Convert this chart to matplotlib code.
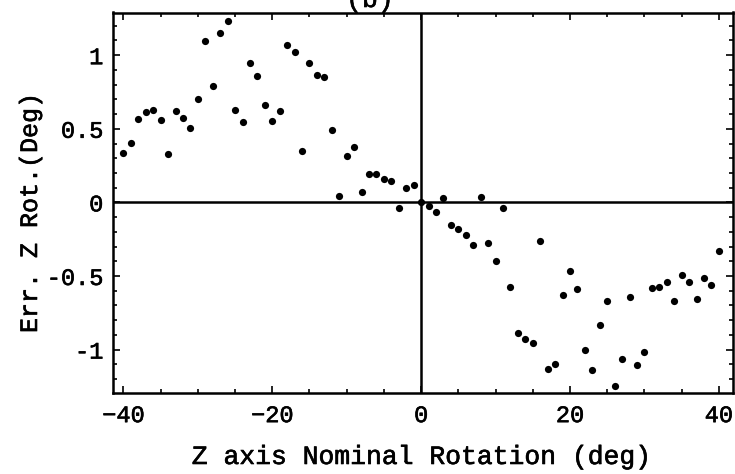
from matplotlib import pyplot as plt
from matplotlib.ticker import MultipleLocator
import matplotlib.patheffects as pe

# nominal rotation (deg) and measured error (deg)
x_neg = [-40, -39, -38, -37, -36, -35, -34, -33, -32, -31,
         -30, -29, -28, -27, -26, -25, -24, -23, -22, -21,
         -20, -19, -18, -17, -16, -15, -14, -13, -12, -11,
         -10, -9, -8, -7, -6, -5, -4, -3, -2, -1]
err_neg = [0.333, 0.406, 0.569, 0.615, 0.628, 0.562, 0.331, 0.619, 0.574, 0.508,
           0.700, 1.095, 0.794, 1.150, 1.234, 0.628, 0.549, 0.950, 0.860, 0.662,
           0.556, 0.624, 1.070, 1.020, 0.352, 0.946, 0.867, 0.853, 0.495, 0.041,
           0.318, 0.374, 0.071, 0.195, 0.195, 0.157, 0.148, -0.041, 0.098, 0.120]

x_pos = [0, 1, 2, 3, 4, 5, 6, 7, 8, 9,
         10, 11, 12, 13, 14, 15, 16, 17, 18, 19,
         20, 21, 22, 23, 24, 25, 26, 27, 28, 29,
         30, 31, 32, 33, 34, 35, 36, 37, 38, 39, 40]
err_pos = [0.0, -0.027, -0.068, 0.030, -0.154, -0.179, -0.220, -0.292, 0.039, -0.279,
           -0.399, -0.036, -0.576, -0.884, -0.925, -0.954, -0.265, -1.133, -1.095, -0.628,
           -0.465, -0.589, -1.002, -1.140, -0.830, -0.667, -1.245, -1.061, -0.641, -1.106,
           -1.016, -0.583, -0.576, -0.542, -0.673, -0.492, -0.542, -0.653, -0.517, -0.562,
           -0.329]

x_ticks = [-40, -20, 0, 20, 40]
y_ticks = [-1, -0.5, 0, 0.5, 1]
y_tick_labels = ["-1", "-0.5", "0", "0.5", "1"]

plt.rcParams['font.family'] = ['Liberation Mono', 'DejaVu Sans Mono']
# scanned look: slightly thickened regular strokes
thick = [pe.withStroke(linewidth=0.45, foreground='black')]

fig = plt.figure(figsize=(7.35, 4.74), dpi=100)
ax = fig.add_axes([113 / 735, 1 - 393 / 474, 620 / 735, 380.5 / 474])

ax.scatter(x_neg + x_pos, err_neg + err_pos, s=27, color='black', zorder=3,
           linewidths=0)
ax.axhline(0, color='black', lw=1.8, zorder=2)
ax.axvline(0, color='black', lw=1.8, zorder=2)

ax.set_xlim(-41.4, 41.9)
ax.set_ylim(-1.295, 1.29)

ax.set_xticks(x_ticks)
ax.set_yticks(y_ticks)
ax.set_yticklabels(y_tick_labels)
ax.xaxis.set_minor_locator(MultipleLocator(5))
ax.yaxis.set_minor_locator(MultipleLocator(0.1))
ax.tick_params(which='both', direction='in', top=True, right=True,
               labeltop=False, labelright=False, width=1.2)
ax.tick_params(which='major', length=5, labelsize=17)
ax.tick_params(which='minor', length=3)
ax.tick_params(axis='x', pad=8)
ax.tick_params(axis='y', pad=7)
for sp in ax.spines.values():
    sp.set_linewidth(1.8)
for lbl in ax.get_xticklabels() + ax.get_yticklabels():
    lbl.set_path_effects(thick)

fig.text(422 / 735, 1 - 457 / 474, "Z axis Nominal Rotation (deg)",
         ha='center', va='center', fontsize=19, path_effects=thick)
fig.text(30 / 735, 1 - 213 / 474, "Err. Z Rot.(Deg)", rotation=90,
         ha='center', va='center', fontsize=18, path_effects=thick)
fig.text(370 / 735, 1 - 7 / 474, "(b)", ha='center', va='baseline',
         fontsize=19, path_effects=thick)

fig.savefig('out.png', dpi=100)
